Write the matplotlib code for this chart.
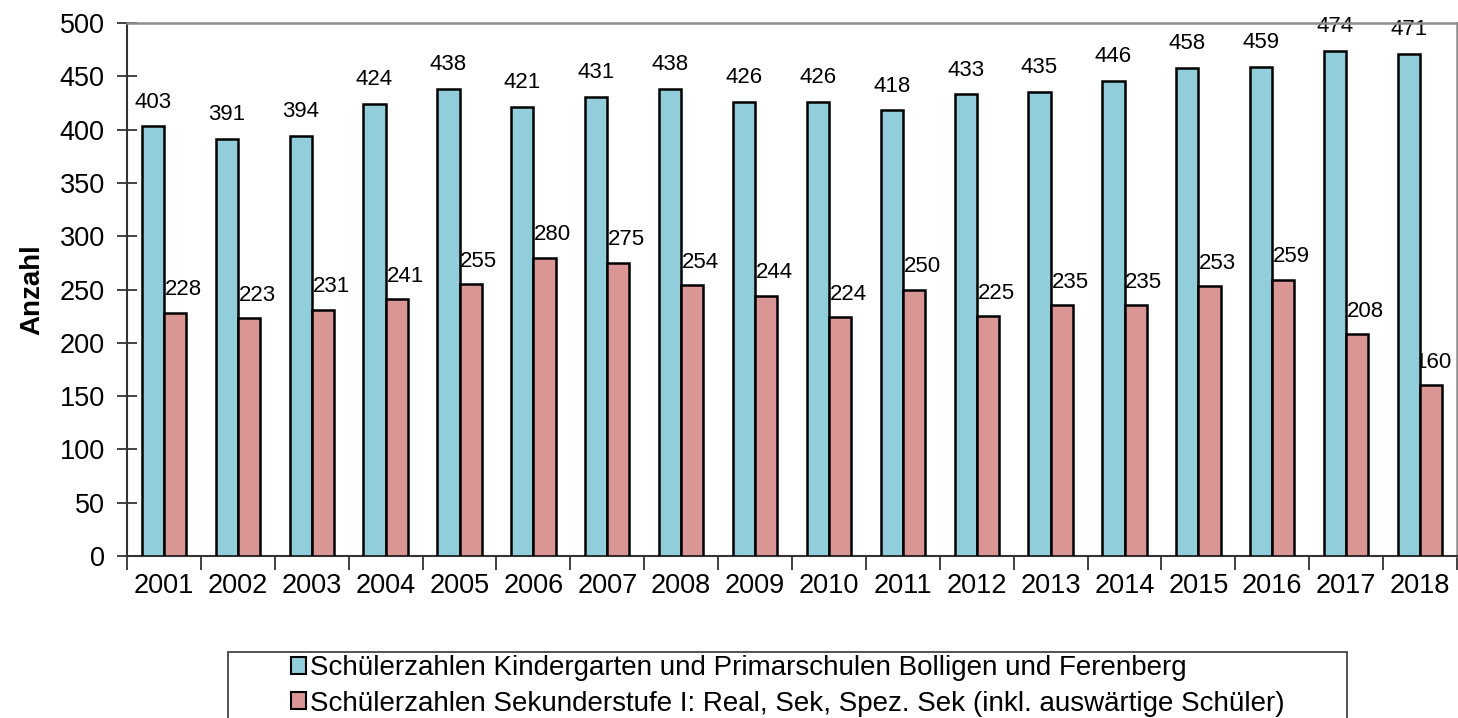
import matplotlib.pyplot as plt
import matplotlib.patches as mpatches
import numpy as np

plt.rcParams['font.family'] = ['Liberation Sans', 'DejaVu Sans']

# Data
years = ['2001', '2002', '2003', '2004', '2005', '2006', '2007', '2008', '2009',
         '2010', '2011', '2012', '2013', '2014', '2015', '2016', '2017', '2018']
primar = [403, 391, 394, 424, 438, 421, 431, 438, 426,
          426, 418, 433, 435, 446, 458, 459, 474, 471]
sekundar = [228, 223, 231, 241, 255, 280, 275, 254, 244,
            224, 250, 225, 235, 235, 253, 259, 208, 160]
labels = ['Schülerzahlen Kindergarten und Primarschulen Bolligen und Ferenberg',
          'Schülerzahlen Sekunderstufe I: Real, Sek, Spez. Sek (inkl. auswärtige Schüler)']

blue = '#92CDDC'
red = '#D99694'
W, H = 1458, 718

fig = plt.figure(figsize=(W / 100, H / 100), dpi=100)
ax = fig.add_axes([127/W, 1 - 556/H, 1330/W, 533/H])

x = np.arange(len(years))
w = 0.3
ax.bar(x - w/2, primar, w, color=blue, edgecolor='black', linewidth=1.8,
       label=labels[0], zorder=3)
ax.bar(x + w/2, sekundar, w, color=red, edgecolor='black', linewidth=1.8,
       label=labels[1], zorder=3)

# Value labels (drawn behind the bars, like the original)
for xi, v in zip(x, primar):
    ax.annotate(str(v), (xi - w/2, v), xytext=(0, 10), textcoords='offset points',
                ha='center', va='bottom', fontsize=16, zorder=1)
for xi, v in zip(x, sekundar):
    dx = 6 if xi < len(years) - 1 else 1  # keep the last one inside the plot
    ax.annotate(str(v), (xi + w/2, v), xytext=(dx, 9), textcoords='offset points',
                ha='center', va='bottom', fontsize=16, zorder=1)

ax.set_xlim(-0.5, len(years) - 0.5)
ax.set_ylim(0, 500)
ax.set_yticks(range(0, 501, 50))
ax.set_xticks(x)
ax.set_xticklabels(years)
ax.set_xticks(np.arange(-0.5, len(years)), minor=True)
ax.tick_params(axis='x', which='major', length=0, labelsize=19.5, pad=12)
ax.tick_params(axis='x', which='minor', length=10, width=1.3, direction='out',
               color='#333333')
ax.tick_params(axis='y', length=14, width=1.3, direction='inout', labelsize=19.5,
               pad=9, color='#333333')

ax.set_ylabel('Anzahl', fontsize=20, fontweight='bold', labelpad=10)

for s in ['top', 'right']:
    ax.spines[s].set_color('#8c8c8c')
    ax.spines[s].set_linewidth(1.8)
for s in ['left', 'bottom']:
    ax.spines[s].set_color('#333333')
    ax.spines[s].set_linewidth(1.5)

# legend box frame (extends past the bottom edge like the original)
frame = mpatches.Rectangle((228/W, -0.05), 1119/W, 0.05 + 1 - 652/H,
                           transform=fig.transFigure, fill=False,
                           edgecolor='#444444', linewidth=1.3)
fig.patches.append(frame)

leg = fig.legend(loc='upper center', bbox_to_anchor=(788/W, 1 - 636/H),
                 fontsize=20, frameon=False,
                 handlelength=0.55, handleheight=0.55, handletextpad=0.15,
                 labelspacing=0.33, borderpad=0.2)
for h in leg.legend_handles:
    h.set_linewidth(1.5)

fig.savefig('out.png', dpi=100)
